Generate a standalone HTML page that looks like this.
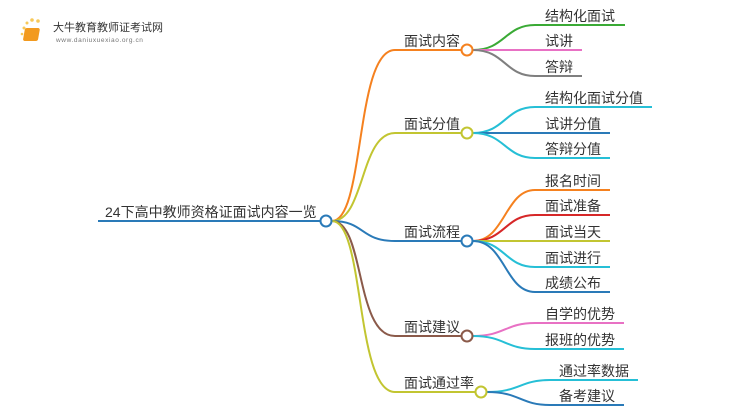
<!DOCTYPE html>
<html><head><meta charset="utf-8"><style>
body{margin:0;background:#fff;width:750px;height:410px;overflow:hidden}
text{font-family:"Liberation Sans","Noto Sans CJK SC",sans-serif;font-size:14px;fill:#333}
</style></head><body>
<svg width="750" height="410" xmlns="http://www.w3.org/2000/svg" fill="none" stroke-width="2">
<g>
<circle cx="24" cy="28" r="1.5" fill="#f7c95a" stroke="none"/>
<circle cx="27" cy="23" r="1.5" fill="#f7c95a" stroke="none"/>
<circle cx="32" cy="20" r="1.8" fill="#f7c95a" stroke="none"/>
<circle cx="38" cy="21" r="1.8" fill="#f7c95a" stroke="none"/>
<circle cx="22" cy="34" r="1.3" fill="#f7c95a" stroke="none"/>
<rect x="30" y="28" width="15" height="13" rx="2" fill="#f29a1f" stroke="none" transform="skewX(-10)"/>
<text x="53" y="31" style="font-size:11px;fill:#333">大牛教育教师证考试网</text>
<text x="56" y="42" style="font-size:6.5px;fill:#777;letter-spacing:0.6px">www.daniuxuexiao.org.cn</text>
</g>
<path d="M98 221H320" stroke="#2a7ab8"/>
<text x="105" y="217">24下高中教师资格证面试内容一览</text>
<path d="M332 221C365 221 355 50 395 50H461" stroke="#f5811f"/>
<path d="M332 221C365 221 360 133 395 133H461" stroke="#c2c531"/>
<path d="M332 221C365 221 360 241 395 241H461" stroke="#2a7ab8"/>
<path d="M332 221C365 221 355 336 395 336H461" stroke="#8b5a4a"/>
<path d="M332 221C365 221 355 392 395 392H475" stroke="#c2c531"/>
<circle cx="326" cy="221" r="5.5" fill="#fff" stroke="#2a7ab8"/>
<text x="404" y="46">面试内容</text>
<text x="404" y="129">面试分值</text>
<text x="404" y="237">面试流程</text>
<text x="404" y="332">面试建议</text>
<text x="404" y="388">面试通过率</text>
<path d="M473 50C505 50 505 25 535 25H625" stroke="#3aaa35"/>
<path d="M473 50H582" stroke="#e871c4"/>
<path d="M473 50C505 50 505 76 535 76H582" stroke="#7f7f7f"/>
<circle cx="467" cy="50" r="5.5" fill="#fff" stroke="#f5811f"/>
<text x="545" y="21">结构化面试</text><text x="545" y="46">试讲</text><text x="545" y="72">答辩</text>
<path d="M473 133C505 133 505 107 535 107H652" stroke="#26bfd6"/>
<path d="M473 133H610" stroke="#2a7ab8"/>
<path d="M473 133C505 133 505 158 535 158H610" stroke="#26bfd6"/>
<circle cx="467" cy="133" r="5.5" fill="#fff" stroke="#c2c531"/>
<text x="545" y="103">结构化面试分值</text><text x="545" y="129">试讲分值</text><text x="545" y="154">答辩分值</text>
<path d="M473 241C505 241 505 190 535 190H610" stroke="#f5811f"/>
<path d="M473 241C505 241 505 215 535 215H610" stroke="#d62728"/>
<path d="M473 241H610" stroke="#c2c531"/>
<path d="M473 241C505 241 505 267 535 267H610" stroke="#26bfd6"/>
<path d="M473 241C505 241 505 292 535 292H610" stroke="#2a7ab8"/>
<circle cx="467" cy="241" r="5.5" fill="#fff" stroke="#2a7ab8"/>
<text x="545" y="186">报名时间</text><text x="545" y="211">面试准备</text><text x="545" y="237">面试当天</text><text x="545" y="263">面试进行</text><text x="545" y="288">成绩公布</text>
<path d="M473 336C505 336 505 323 535 323H624" stroke="#e871c4"/>
<path d="M473 336C505 336 505 349 535 349H624" stroke="#26bfd6"/>
<circle cx="467" cy="336" r="5.5" fill="#fff" stroke="#8b5a4a"/>
<text x="545" y="319">自学的优势</text><text x="545" y="345">报班的优势</text>
<path d="M487 392C520 392 520 380 550 380H638" stroke="#26bfd6"/>
<path d="M487 392C520 392 520 405 550 405H624" stroke="#2a7ab8"/>
<circle cx="481" cy="392" r="5.5" fill="#fff" stroke="#c2c531"/>
<text x="559" y="376">通过率数据</text><text x="559" y="401">备考建议</text>
</svg>
</body></html>
